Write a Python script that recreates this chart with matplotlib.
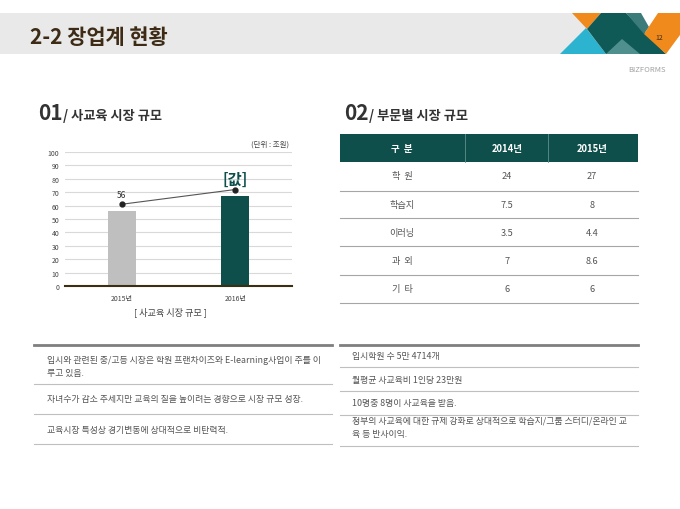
import matplotlib
matplotlib.use("Agg")
import matplotlib.pyplot as plt
from matplotlib.patches import Polygon, Rectangle

plt.rcParams['font.family'] = ['Noto Sans CJK KR', 'DejaVu Sans']

# chart data
years = ['2015년', '2016년']
market = [56, 67]
trend = [61, 72]
trend_labels = ['56', '[값]']

# table data
table_head = ['구  분', '2014년', '2015년']
segments = ['학  원', '학습지', '이러닝', '과  외', '기  타']
v2014 = ['24', '7.5', '3.5', '7', '6']
v2015 = ['27', '8', '4.4', '8.6', '6']

notes_left = [
    '입시와 관련된 중/고등 시장은 학원 프랜차이즈와 E-learning사업이 주를 이\n루고 있음.',
    '자녀수가 감소 추세지만 교육의 질을 높이려는 경향으로 시장 규모 성장.',
    '교육시장 특성상 경기변동에 상대적으로 비탄력적.',
]
notes_right = [
    '입시학원 수 5만 4714개',
    '월평균 사교육비 1인당 23만원',
    '10명중 8명이 사교육을 받음.',
    '정부의 사교육에 대한 규제 강화로 상대적으로 학습지/그룹 스터디/온라인 교\n육 등 반사이익.',
]

TEAL = '#0E4F4C'
NOTE = dict(fontsize=6.4, color='#555555', va='center')
W, H = 680, 510
fig = plt.figure(figsize=(6.8, 5.1), dpi=100)
bg = fig.add_axes([0, 0, 1, 1])
bg.set_xlim(0, W)
bg.set_ylim(H, 0)
bg.axis('off')

# header band + logo
bg.add_patch(Rectangle((0, 14), 600, 41, color='#E9E9E9', lw=0))
bg.text(30, 37, '2-2 장업계 현황', fontsize=15, fontweight='bold', color='#3D2B16', va='center')
bg.add_patch(Polygon([(560, 55), (586, 29), (606, 55)], color='#2BB3CF', lw=0))
bg.add_patch(Polygon([(572, 14), (601, 14), (587, 30)], color='#F08A1C', lw=0))
bg.add_patch(Polygon([(587, 30), (601, 14), (626, 14), (666, 55), (606, 55)], color='#0F5A57', lw=0))
bg.add_patch(Polygon([(606, 55), (622, 40), (640, 55)], color='#4F8F8D', lw=0))
bg.add_patch(Polygon([(626, 14), (641, 14), (649, 28), (644, 35)], color='#3B7C7A', lw=0))
bg.add_patch(Polygon([(644, 35), (658, 14), (680, 14), (680, 36), (666, 55)], color='#F08A1C', lw=0))
bg.text(659, 38, '12', fontsize=5, color='#3D2B16', ha='center', va='center')
bg.text(666, 70, 'BIZFORMS', fontsize=5.5, color='#A0A0A0', ha='right', va='center')

# section titles
bg.text(38, 114, '01', fontsize=15, fontweight='bold', color='#333333', va='center')
bg.text(63, 116, '/ 사교육 시장 규모', fontsize=9.5, fontweight='bold', color='#333333', va='center')
bg.text(344, 114, '02', fontsize=15, fontweight='bold', color='#333333', va='center')
bg.text(369, 116, '/ 부문별 시장 규모', fontsize=9.5, fontweight='bold', color='#333333', va='center')

# bar chart
ax = fig.add_axes([65 / W, 1 - 287 / H, 227 / W, 134 / H])
x = range(len(years))
ax.bar(x, market, width=0.25, color=['#BFBFBF', TEAL], zorder=2)
ax.plot(x, trend, color='#555555', lw=0.8, marker='o', ms=3.5, mfc='#222222', mec='#222222', zorder=3)
ax.text(0, trend[0] + 4, trend_labels[0], ha='center', va='bottom', fontsize=6, color='#333333')
ax.text(1, trend[1] + 2, trend_labels[1], ha='center', va='bottom', fontsize=11, fontweight='bold', color=TEAL)
ax.set_xlim(-0.5, 1.5)
ax.set_ylim(0, 100)
ax.set_yticks(range(0, 101, 10))
ax.set_xticks(list(x))
ax.set_xticklabels(years)
ax.tick_params(length=0, labelsize=5, colors='#444444', pad=4)
ax.tick_params(axis='x', pad=6)
ax.grid(axis='y', color='#D9D9D9', lw=0.8, zorder=0)
for s in ['top', 'right', 'left']:
    ax.spines[s].set_visible(False)
ax.spines['bottom'].set_color('#3B2F12')
ax.spines['bottom'].set_linewidth(1.5)
bg.text(270, 145, '(단위 : 조원)', fontsize=5.4, color='#444444', ha='center', va='center')
bg.text(170, 312, '[ 사교육 시장 규모 ]', fontsize=6.6, color='#444444', ha='center', va='center')

# table
bg.add_patch(Rectangle((340, 135), 298, 28, color=TEAL, lw=0))
bg.plot([465, 465], [135, 163], color='#5F8F8D', lw=0.6)
bg.plot([548, 548], [135, 163], color='#5F8F8D', lw=0.6)
col_x = [402, 507, 592]
for cx, h in zip(col_x, table_head):
    bg.text(cx, 149, h, fontsize=6.8, fontweight='bold', color='white', ha='center', va='center')
row_y = [177, 206, 234, 262, 290]
line_y = [192, 219, 247, 276, 304]
for i in range(len(segments)):
    for cx, val in zip(col_x, [segments[i], v2014[i], v2015[i]]):
        bg.text(cx, row_y[i], val, fontsize=6.6, color='#555555', ha='center', va='center')
    bg.plot([340, 638], [line_y[i], line_y[i]], color='#A6A6A6', lw=0.8)

# notes left
bg.plot([34, 332], [346, 346], color='#7F7F7F', lw=2)
bg.text(47, 367, notes_left[0], linespacing=1.6, **NOTE)
bg.plot([34, 332], [385, 385], color='#BFBFBF', lw=0.8)
bg.text(47, 400, notes_left[1], **NOTE)
bg.plot([34, 332], [415, 415], color='#BFBFBF', lw=0.8)
bg.text(47, 431, notes_left[2], **NOTE)
bg.plot([34, 332], [445, 445], color='#BFBFBF', lw=0.8)

# notes right
bg.plot([340, 638], [346, 346], color='#7F7F7F', lw=2)
bg.text(352, 357, notes_right[0], **NOTE)
bg.plot([340, 638], [368, 368], color='#BFBFBF', lw=0.8)
bg.text(352, 381, notes_right[1], **NOTE)
bg.plot([340, 638], [392, 392], color='#BFBFBF', lw=0.8)
bg.text(352, 404, notes_right[2], **NOTE)
bg.plot([340, 638], [416, 416], color='#BFBFBF', lw=0.8)
bg.text(352, 428, notes_right[3], linespacing=1.6, **NOTE)
bg.plot([340, 638], [447, 447], color='#BFBFBF', lw=0.8)

fig.savefig('out.png', dpi=100)
